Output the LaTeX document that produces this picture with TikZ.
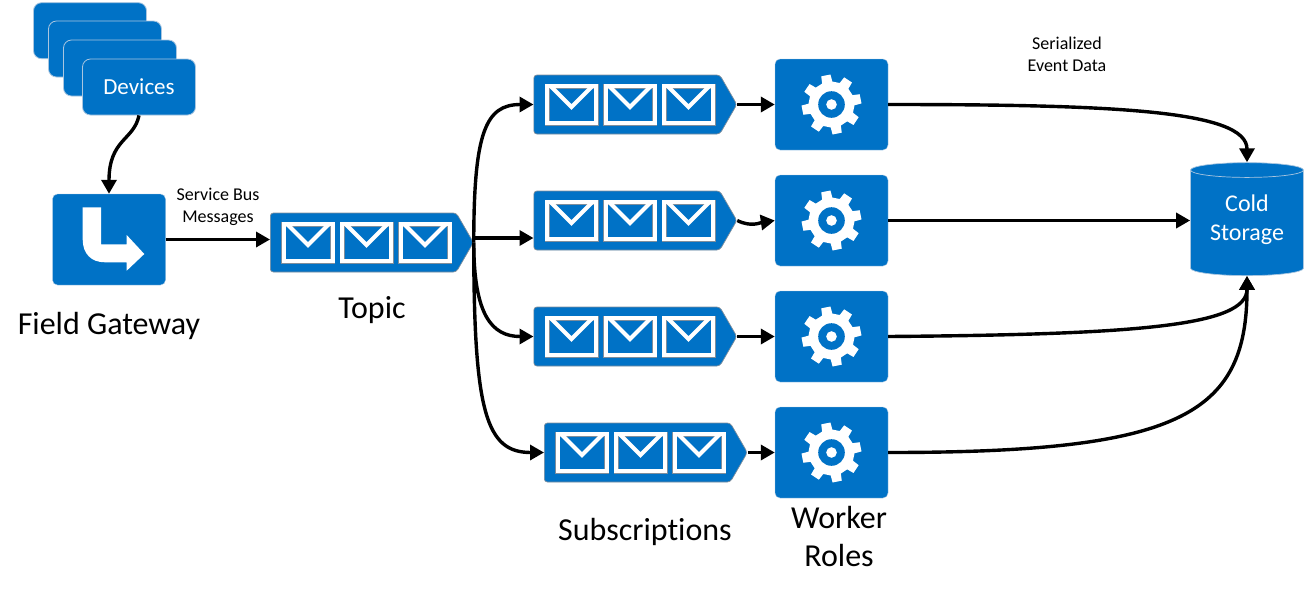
\documentclass[tikz,border=0pt]{standalone}
\usepackage{fontspec}
\setmainfont{Carlito}[Ligatures=CommonOff]
\usetikzlibrary{arrows.meta, shapes.geometric, shapes.symbols}
\definecolor{azureblue}{HTML}{0072C6}
\definecolor{paleedge}{HTML}{A9C6E0}
\definecolor{greyedge}{HTML}{7F8E9C}
\tikzset{
  devicecard/.style={rectangle, rounded corners=8pt, fill=azureblue, draw=paleedge,
                     line width=0.8pt, minimum width=113pt, minimum height=56pt,
                     text=white, font=\fontsize{23}{27}\selectfont},
  iconcard/.style={rectangle, rounded corners=5pt, fill=azureblue, draw=paleedge,
                   line width=0.4pt, minimum width=113pt, minimum height=91pt},
  queuebox/.style={signal, signal to=east, signal pointer angle=120, rounded corners=3pt,
                   fill=azureblue, draw=greyedge, line width=0.7pt, inner sep=0pt,
                   minimum width=203pt, minimum height=59pt, anchor=west},
  store/.style={cylinder, shape border rotate=90, aspect=0.2, fill=azureblue, draw=paleedge,
                line width=0.7pt, minimum width=113pt, minimum height=113pt, inner sep=0pt,
                align=center, text=white, font=\fontsize{24}{29}\selectfont},
  caption/.style={align=center, font=\fontsize{32}{38}\selectfont},
  note/.style={align=center, font=\fontsize{18}{22}\selectfont},
  flow/.style={-{Triangle[length=14pt,width=15pt]}, line width=3.4pt, black},
  envelope/.pic={
    \draw[greyedge, line width=5pt] (-24.5,-18.5) rectangle (24.5,18.5);
    \draw[white, line width=4pt] (-21,-18.5) -- (0,2.5) -- (21,-18.5);
    \draw[white, line width=4pt] (-24.5,-18.5) rectangle (24.5,18.5);
  },
  gear/.pic={
    \fill[white] (21:23) \foreach \a in {34,79,...,349} {
      -- (\a-13:23) -- (\a-9:30) -- (\a+9:30) -- (\a+13:23)} -- cycle;
    \fill[azureblue] (0,0) circle (13.3);
    \fill[white] (0,0) circle (5.3);
  },
  turnarrow/.pic={
    \fill[white] (-26.3,-32.2) -- (-8,-32.2) -- (-8,4.8) -- (17.7,4.8) -- (17.7,-4.5)
      -- (35.3,14.5) -- (17.7,31.2) -- (17.7,22.8) -- (-4,22.8)
      .. controls (-18,22.8) and (-26.3,14) .. (-26.3,0) -- cycle;
  },
}

\begin{document}
\begin{tikzpicture}[x=1pt, y=-1pt]
\useasboundingbox (0,0) rectangle (1314,590);

% Device stack, the front card carries the text
\node[devicecard] (dev1) at (90,30.7) {};
\node[devicecard] (dev2) at (105,49) {};
\node[devicecard] (dev3) at (120,68) {};
\node[devicecard] (devices) at (139,87) {Devices};

% Gateway
\node[iconcard] (gateway) at (109,239.5) {};
\pic at (gateway) {turnarrow};
\node[caption] (gatewaylabel) at (109,326) {Field Gateway};

% Queues: topic and the four subscriptions
\foreach \n/\x/\y in {topic/270/242.5, sub1/533.5/104.5, sub2/533.5/220.5,
                      sub3/533.5/336.5, sub4/544/452.5} {
  \node[queuebox] (\n) at (\x,\y) {};
  \foreach \dx in {38,96.5,155} { \pic at (\x+\dx,\y) {envelope}; }
}

% Worker roles
\foreach \n/\y in {work1/104.5, work2/220.5, work3/336.5, work4/452.5} {
  \node[iconcard] (\n) at (831.5,\y) {};
  \pic at (\n) {gear};
}

% Storage
\node[store, text depth=10pt] (storage) at (1247,223) {Cold\\Storage};

% Labels
\node[note] (buslabel) at (218,207) {Service Bus\\Messages};
\node[note] (datalabel) at (1067,54) {Serialized\\Event Data};
\node[caption] (topiclabel) at (372,310) {Topic};
\node[caption] (sublabel) at (645,532) {Subscriptions};
\node[caption] (worklabel) at (839,536) {Worker\\Roles};

% Flow
\draw[flow] (devices.south) .. controls +(-5,25) and +(0,-55) .. (gateway.north);
\draw[flow] (gateway.east) -- (topic.west |- gateway.east);
\draw[flow] (topic.east) .. controls +(0,-110) and +(-48,0) .. (sub1.west);
\draw[flow] ([yshift=4.5pt]topic.east) -- (sub2.west |- 0,238);
\draw[flow] (topic.east) .. controls +(0,72) and +(-42,0) .. (sub3.west);
\draw[flow] (topic.east) .. controls +(0,170) and +(-58,0) .. (sub4.west);
\draw[flow] (sub1.east) -- (work1.west);
\draw[flow] (sub2.east) .. controls +(14,7) and +(-14,2) .. (work2.west);
\draw[flow] (sub3.east) -- (work3.west);
\draw[flow] (sub4.east) -- (work4.west);
\draw[flow] (work1.east) .. controls +(225,0) and +(0,-52) .. (storage.north);
\draw[flow] (work2.east) -- (storage.west |- work2.east);
\draw[flow] (work3.east) .. controls +(250,-2) and +(0,50) .. (storage.south);
\draw[flow] (work4.east) .. controls +(290,0) and +(0,140) .. (storage.south);

\end{tikzpicture}
\end{document}
